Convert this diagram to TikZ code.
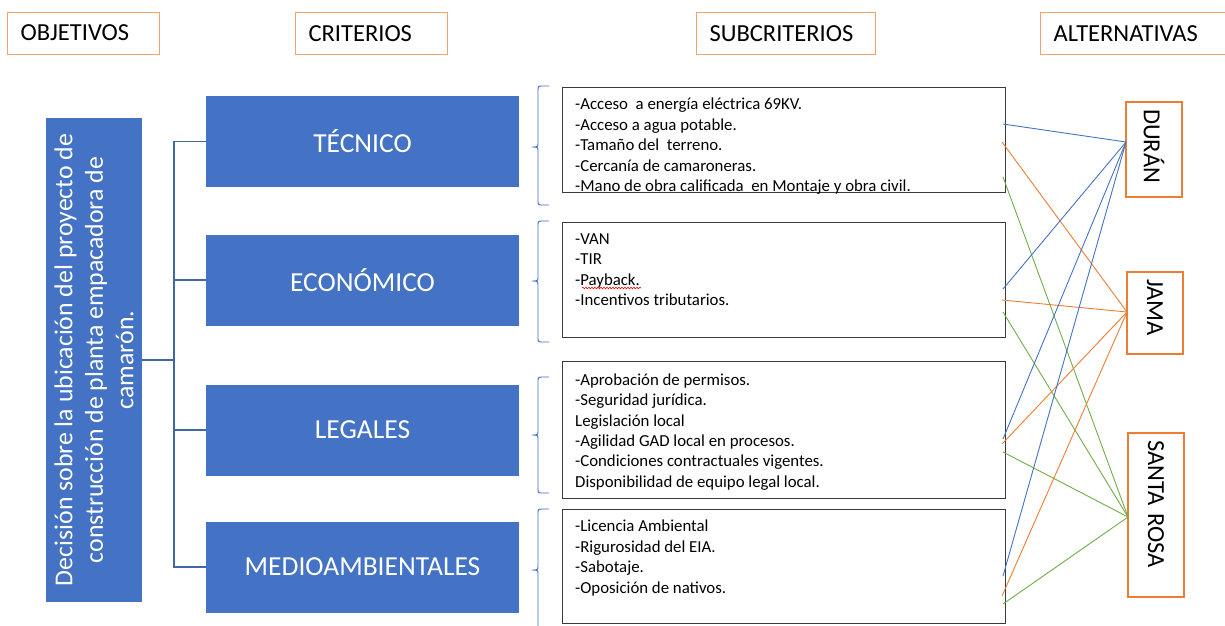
\documentclass[tikz,border=0pt]{standalone}
\usepackage{fontspec}
\setmainfont{Carlito}
\usetikzlibrary{decorations.pathmorphing}
\definecolor{cblue}{HTML}{4472C4}
\definecolor{treeblue}{HTML}{41699F}
\definecolor{corange}{HTML}{ED7D31}
\definecolor{hdrorange}{HTML}{F4A26B}
\definecolor{cgreen}{HTML}{70AD47}
\definecolor{boxgray}{HTML}{3A3A3A}
\begin{document}
\begin{tikzpicture}[x=1pt,y=-1pt,
  hdr/.style={draw=hdrorange, line width=1.2pt, inner xsep=13pt, inner ysep=0pt, minimum height=42pt, align=left, font=\fontsize{24.5}{28}\selectfont, anchor=north west},
  crit/.style={fill=cblue, draw=none, text=white, minimum width=313pt, minimum height=91pt, inner sep=0pt, font=\fontsize{27.5}{32}\selectfont},
  subbox/.style={draw=boxgray, line width=1.2pt, minimum width=443pt, inner sep=0pt, anchor=north west},
  subtxt/.style={anchor=north west, inner sep=0pt, align=left, font=\fontsize{16.8}{20.4}\selectfont},
  altbox/.style={draw=corange, line width=1.2pt, fill=white, inner xsep=7pt, inner ysep=0pt, rotate=-90, minimum height=56pt, align=left, font=\fontsize{24.5}{28}\selectfont},
  tree/.style={draw=treeblue, line width=1.3pt},
  brc/.style={draw=cblue, line width=0.9pt},
  lb/.style={draw=cblue, line width=0.9pt},
  lo/.style={draw=corange, line width=0.9pt},
  lg/.style={draw=cgreen, line width=0.9pt}]
\useasboundingbox (0,0) rectangle (1225,625);
\clip (0,0) rectangle (1225,625);
% headers
\node[hdr, text width=126pt] (hobj) at (7,11.5) {OBJETIVOS};
\node[hdr, text width=126pt] (hcrit) at (295,12) {CRITERIOS};
\node[hdr, text width=153pt] (hsub) at (696,12) {SUBCRITERIOS};
\node[hdr, text width=180pt] (halt) at (1040,12) {ALTERNATIVAS};
% objective box
\node[fill=cblue, text=white, rotate=90, minimum width=484pt, minimum height=96pt, inner sep=0pt, align=center, font=\fontsize{25.8}{30.5}\selectfont] (obj) at (94,360)
  {Decisión sobre la ubicación del proyecto de\\construcción de planta empacadora de\\camarón.};
% criteria
\node[crit] (tec) at (362.5,141.5) {TÉCNICO};
\node[crit] (eco) at (362.5,280) {ECONÓMICO};
\node[crit] (leg) at (362.5,430) {LEGALES};
\node[crit] (med) at (362.5,567) {MEDIOAMBIENTALES};
% tree
\coordinate (jn) at (174,360);
\draw[tree] (obj.south) -- (jn);
\draw[tree] (tec.west) -| (jn) |- (med.west);
\draw[tree] (eco.west) -- (eco.west -| jn);
\draw[tree] (leg.west) -- (leg.west -| jn);
% braces
\foreach \t/\m/\b in {86/147/205, 221/281/342, 377/435/493, 509/570/631}{
  \draw[brc] (549,\t) -- (543,\t) .. controls (538,\t) .. (538,\t+5) -- (538,\m-5) .. controls (538,\m) .. (532,\m) .. controls (538,\m) .. (538,\m+5) -- (538,\b-5) .. controls (538,\b) .. (543,\b) -- (549,\b);
}
% subcriteria boxes
\node[subbox, minimum height=105pt] (sub1) at (562,87) {};
\node[subbox, minimum height=115pt] (sub2) at (562,222) {};
\node[subbox, minimum height=137pt] (sub3) at (562,361) {};
\node[subbox, minimum height=114pt] (sub4) at (562,509) {};
\node[subtxt] (t1) at (575,98) {-Acceso\ \ a energía eléctrica 69KV.\\-Acceso a agua potable.\\-Tamaño del\ \ terreno.\\-Cercanía de camaroneras.\\-Mano de obra calificada\ \ en Montaje y obra civil.};
\node[subtxt] (t2) at (575,233.5) {-VAN\\-TIR\\-Payback.\\-Incentivos tributarios.};
\node[subtxt] (t3) at (575,373.5) {-Aprobación de permisos.\\-Seguridad jurídica.\\Legislación local\\-Agilidad GAD local en procesos.\\-Condiciones contractuales vigentes.\\Disponibilidad de equipo legal local.};
\node[subtxt] (t4) at (575,520) {-Licencia Ambiental\\-Rigurosidad del EIA.\\-Sabotaje.\\-Oposición de nativos.};
\draw[red, line width=0.6pt, decorate, decoration={snake, amplitude=0.8pt, segment length=3pt}] (582,288) -- (641,288);
% alternatives
\node[altbox, minimum width=95pt, text width=81pt] (dur) at (1154,149.5) {DURÁN};
\node[altbox, minimum width=82pt, text width=68pt] (jam) at (1155,313) {JAMA};
\node[altbox, minimum width=164pt, text width=150pt] (sro) at (1156,515) {SANTA ROSA};
\coordinate (dP) at (1126,142);
\coordinate (jP) at (1127,312);
\coordinate (sP) at (1128,517);
% connector start points
\coordinate (b1) at (1003,124); \coordinate (b2) at (1003,289); \coordinate (b3) at (1003,439); \coordinate (b4) at (1003,576);
\coordinate (o1) at (1002,142); \coordinate (o2) at (1002,300); \coordinate (o3) at (1002,444); \coordinate (o4) at (1002,596);
\coordinate (g1) at (1003,177); \coordinate (g2) at (1003,312); \coordinate (g3) at (1003,452); \coordinate (g4) at (1003,604);
\foreach \i in {1,2,3,4}{
  \draw[lb] (b\i) -- (dP);
  \draw[lo] (o\i) -- (jP);
  \draw[lg] (g\i) -- (sP);
}
\end{tikzpicture}
\end{document}
